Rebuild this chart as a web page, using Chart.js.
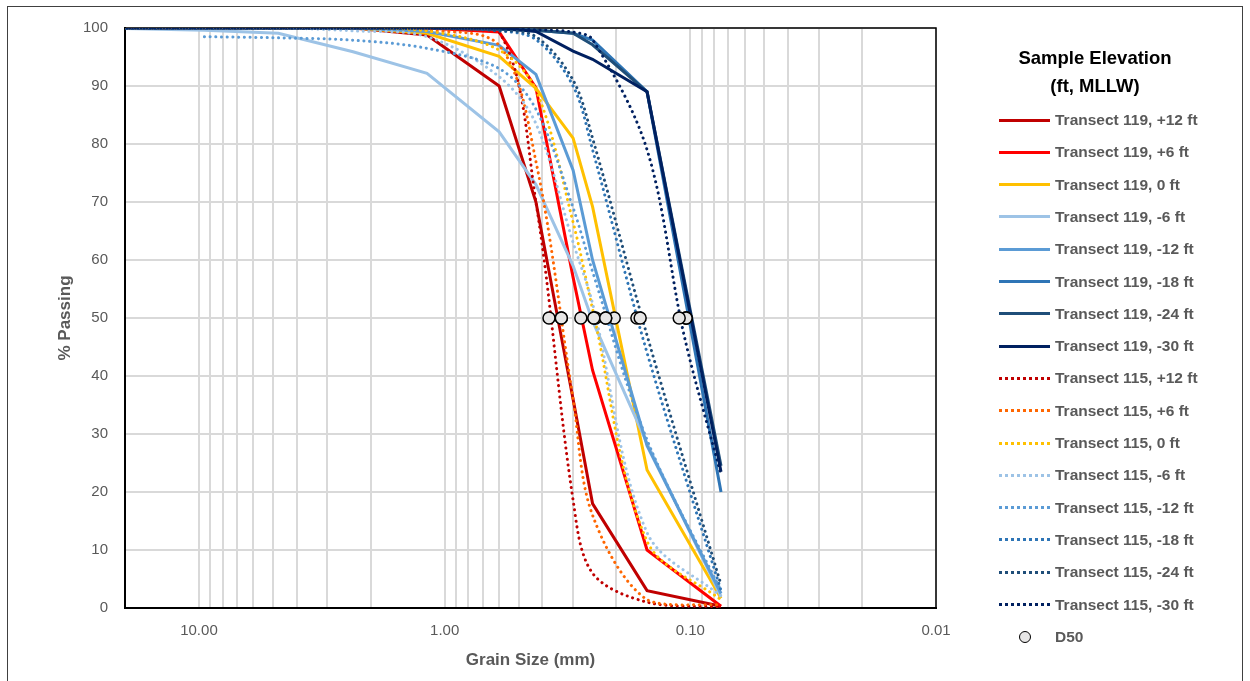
<!DOCTYPE html>
<html><head><meta charset="utf-8">
<script src="https://cdn.jsdelivr.net/npm/chart.js@4.4.1/dist/chart.umd.min.js"></script>
<style>
html,body{margin:0;padding:0;background:#fff;width:1250px;height:681px;overflow:hidden;font-family:"Liberation Sans",Arial,sans-serif;}
#frame{position:absolute;left:7px;top:6px;width:1236px;height:700px;border:1.5px solid #404040;box-sizing:border-box;}
#c{position:absolute;left:0;top:0;}
.lt{position:absolute;left:995px;width:200px;top:44px;text-align:center;font-weight:bold;font-size:18.5px;line-height:28px;color:#000;}
.row{position:absolute;left:999px;height:20px;width:240px;}
.sw{position:absolute;left:0;top:8.5px;width:51px;height:0;}
.dot{position:absolute;left:20px;top:4px;width:10px;height:10px;border:1.5px solid #000;border-radius:50%;background:#e7e6e6;}
.lbl{position:absolute;left:56px;top:0;line-height:20px;font-weight:bold;font-size:15.5px;color:#595959;white-space:nowrap;}
</style></head>
<body>
<div id="frame"></div>
<canvas id="c" width="1250" height="681"></canvas>
<div id="legend"><div class="lt">Sample Elevation<br>(ft, MLLW)</div></div>
<script>
// Sieve sizes (mm)
const sieveSizes = [25, 9.5, 4.75, 2.36, 1.18, 0.6, 0.425, 0.3, 0.25, 0.15, 0.106, 0.075];

// Transect 119 (% passing)
const t119_p12 = [100,100,100,100,98.8,90,70,36,18,3,null,0.3];
const t119_p6  = [100,100,100,100,100,99.3,89.7,57,41,10,null,0.3];
const t119_0   = [100,100,100,100,99.1,95.1,89.6,81,69.2,23.8,null,1.7];
const t119_m6  = [100,99.6,99.1,95.9,92.2,82.1,73,59,49.5,28.4,null,2];
const t119_m12 = [100,100,100,100,99.4,97,92,75.5,60,28,null,2.5];
const t119_m18 = [100,100,100,100,100,99.8,99.6,99.1,97.9,89,null,20];
const t119_m24 = [100,100,100,100,100,99.8,99.6,99.1,97.1,89,null,24.5];
const t119_m30 = [100,100,100,100,100,100,99.4,96,94.6,89,null,23.5];

// Transect 115 (% passing)
const t115_p12 = [100,100,100,100,99.8,99.3,70,18.6,6,1,null,0.2];
const t115_p6  = [100,100,100,100,99.6,97,77,36,16,1.4,null,0.5];
const t115_0   = [100,100,100,100,99.5,96.2,89.3,66.5,51.6,11.5,null,1.4];
const t115_m6  = [100,100,100,99.5,98.5,91.6,83.5,63,52.5,13,null,2];
const t115_m12 = [null,98.5,98.3,97.9,96.5,93,86,69,58,29,null,3];
const t115_m18 = [100,100,100,100,100,99.5,98,90,79,44,null,3];
const t115_m24 = [100,100,100,100,100,99.6,98.5,91,81,47,null,4];
const t115_m30 = [100,100,100,100,100,100,99.7,99.3,98,79,47,23];

// D50 grain sizes (mm)
const d50_t119 = [0.335, 0.279, 0.204, 0.247, 0.221, 0.104, 0.104, 0.104];
const d50_t115 = [0.376, 0.335, 0.243, 0.247, 0.221, 0.165, 0.160, 0.111];

const elevations = ['+12 ft', '+6 ft', '0 ft', '-6 ft', '-12 ft', '-18 ft', '-24 ft', '-30 ft'];
const colors = ['#C00000','#FF0000','#FFC000','#9DC3E6','#5B9BD5','#2E75B6','#1F4E79','#002060'];
const colors115 = ['#C00000','#FF6600','#FFC000','#9DC3E6','#5B9BD5','#2E75B6','#1F4E79','#002060'];
const yAxisTicks = [0,10,20,30,40,50,60,70,80,90,100];
const xLabelTicks = [10, 1, 0.1, 0.01];

const series119 = [t119_p12,t119_p6,t119_0,t119_m6,t119_m12,t119_m18,t119_m24,t119_m30];
const series115 = [t115_p12,t115_p6,t115_0,t115_m6,t115_m12,t115_m18,t115_m24,t115_m30];

function pts(vals){ return sieveSizes.map((s,i)=>({x:s, y:vals[i]})); }

const datasets = [];
let idx = 0;
series119.forEach((v,i)=>{
  datasets.push({label:'Transect 119, '+elevations[i], data:pts(v), showLine:true, borderColor:colors[i],
    backgroundColor:colors[i], borderWidth:3, pointRadius:0, tension:0, spanGaps:true, order:40-idx, _dotted:false});
  idx++;
});
series115.forEach((v,i)=>{
  datasets.push({label:'Transect 115, '+elevations[i], data:pts(v), showLine:true, borderColor:colors115[i],
    backgroundColor:colors115[i], borderWidth:3, borderDash:[0.1,5.6], borderCapStyle:'round', pointRadius:0,
    tension:0.33, spanGaps:true, order:40-idx, _dotted:true});
  idx++;
});
const d50pts = d50_t119.concat(d50_t115).map(d=>({x:d, y:50}));
datasets.push({label:'D50', data:d50pts, showLine:false, pointRadius:6, pointHoverRadius:6,
  pointBackgroundColor:'#E7E6E6', pointBorderColor:'#000', pointBorderWidth:1.5, order:0});

const plotBorder = {
  id:'plotBorder',
  beforeDatasetsDraw(chart){
    const {ctx, chartArea:a} = chart;
    ctx.save(); ctx.strokeStyle='#000'; ctx.lineWidth=1.5;
    ctx.strokeRect(a.left, a.top, a.right-a.left, a.bottom-a.top);
    ctx.restore();
  }
};

Chart.defaults.font.family = '"Liberation Sans", Arial, sans-serif';

new Chart(document.getElementById('c'), {
  type:'scatter',
  data:{datasets},
  plugins:[plotBorder],
  options:{
    responsive:false, devicePixelRatio:1, animation:false,
    layout:{padding:{left:0, right:314, top:28, bottom:0}},
    plugins:{legend:{display:false}, tooltip:{enabled:false}},
    elements:{line:{capBezierPoints:true}},
    scales:{
      x:{
        type:'logarithmic', reverse:true, min:0.01, max:20,
        afterBuildTicks(scale){
          const t=[];
          for(let e=-2;e<=1;e++){ for(let m=1;m<=9;m++){ const v=+(m*Math.pow(10,e)).toPrecision(6); if(v>=0.01 && v<=20) t.push({value:v}); } }
          t.push({value:20});
          scale.ticks=t;
        },
        afterFit(s){ s.height=73; },
        ticks:{autoSkip:false, maxRotation:0, minRotation:0, padding:14, color:'#595959', font:{size:15},
          callback(v){ return xLabelTicks.some(t=>Math.abs(t-v)<1e-9) ? Number(v).toFixed(2) : ''; }},
        grid:{color:'#d9d9d9', lineWidth:2, drawTicks:false},
        border:{color:'#000', width:2},
        title:{display:true, text:'Grain Size (mm)', color:'#595959', font:{size:17, weight:'bold'}, padding:{top:0,bottom:10}}
      },
      y:{
        min:0, max:100,
        afterBuildTicks(scale){ scale.ticks = yAxisTicks.map(v=>({value:v})); },
        afterFit(s){ s.width=125; },
        ticks:{padding:17, color:'#595959', font:{size:15}},
        grid:{color:'#d9d9d9', lineWidth:2, drawTicks:false},
        border:{color:'#000', width:2},
        title:{display:true, text:'% Passing', color:'#595959', font:{size:17, weight:'bold'}, padding:{top:55,bottom:0}}
      }
    }
  }
});

// HTML legend
const legend = document.getElementById('legend');
datasets.forEach((ds,i)=>{
  const row = document.createElement('div');
  row.className='row';
  row.style.top = (120 + 32.3*i - 10) + 'px';
  if (ds.label === 'D50') {
    row.innerHTML = '<div class="dot"></div>';
  } else {
    const sw = document.createElement('div');
    sw.className='sw';
    sw.style.borderTop = '3px ' + (ds._dotted ? 'dotted ' : 'solid ') + ds.borderColor;
    row.appendChild(sw);
  }
  const lb = document.createElement('div');
  lb.className='lbl'; lb.textContent = ds.label;
  row.appendChild(lb);
  legend.appendChild(row);
});
</script>
</body></html>
